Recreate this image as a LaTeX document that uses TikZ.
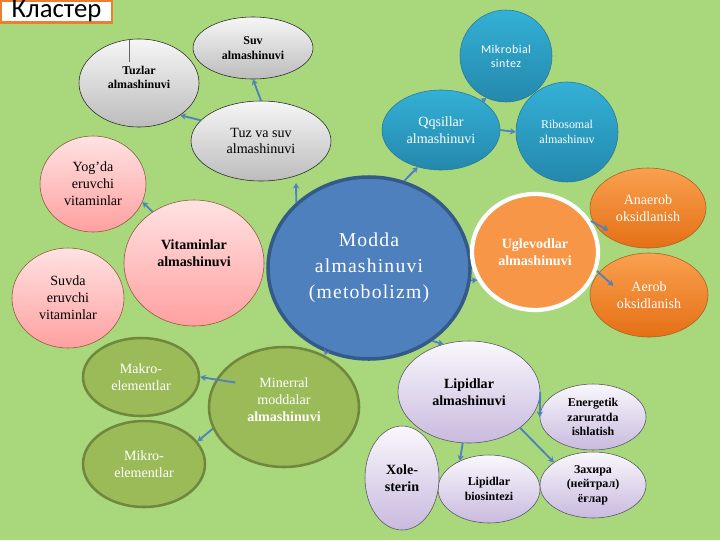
\documentclass[tikz,border=0pt]{standalone}
\usepackage{fontspec}
\setmainfont{Liberation Serif}
\newfontfamily\titlefont{Carlito}
\usetikzlibrary{shapes.geometric,arrows.meta}
\definecolor{bggreen}{RGB}{169,215,124}
\definecolor{greytop}{RGB}{246,246,246}
\definecolor{greybot}{RGB}{188,188,188}
\definecolor{pinktop}{RGB}{255,226,226}
\definecolor{pinkbot}{RGB}{255,160,160}
\definecolor{pinkline}{RGB}{140,85,60}
\definecolor{tealtop}{RGB}{52,176,214}
\definecolor{tealbot}{RGB}{36,136,172}
\definecolor{tealline}{RGB}{40,120,150}
\definecolor{moddafill}{RGB}{77,128,189}
\definecolor{moddaline}{RGB}{52,90,136}
\definecolor{uglevfill}{RGB}{247,150,70}
\definecolor{orangetop}{RGB}{250,160,78}
\definecolor{orangebot}{RGB}{228,112,22}
\definecolor{orangeline}{RGB}{170,95,35}
\definecolor{olivefill}{RGB}{155,187,89}
\definecolor{oliveline}{RGB}{112,136,62}
\definecolor{lilactop}{RGB}{250,247,253}
\definecolor{lilacbot}{RGB}{200,186,222}
\definecolor{lilacline}{RGB}{85,85,95}
\definecolor{linkblue}{RGB}{79,129,189}
\definecolor{titleorange}{RGB}{237,125,49}
\newcommand\bubble[6]{\node[#1,minimum width=#4*0.025cm,minimum height=#5*0.025cm] (#2) at (#3) {#6};}
\newcommand\connect[3][]{\draw[link,#1] (#2) -- (#3);}

\begin{document}
\begin{tikzpicture}[x=0.025cm,y=-0.025cm]
\tikzstyle{blob}=[ellipse,inner sep=0pt,align=center]
\tikzstyle{greybub}=[blob,draw=black!85,top color=greytop,bottom color=greybot]
\tikzstyle{pinkbub}=[blob,draw=pinkline,top color=pinktop,bottom color=pinkbot]
\tikzstyle{tealbub}=[blob,draw=tealline,top color=tealtop,bottom color=tealbot,text=white]
\tikzstyle{orangebub}=[blob,draw=orangeline,top color=orangetop,bottom color=orangebot,text=white]
\tikzstyle{olivebub}=[blob,draw=oliveline,line width=1.8pt,fill=olivefill,text=white]
\tikzstyle{lilacbub}=[blob,draw=lilacline,top color=lilactop,bottom color=lilacbot]
\tikzstyle{moddabub}=[blob,draw=moddaline,line width=2.5pt,fill=moddafill,text=white,
  font=\fontsize{14}{18.5}\selectfont\addfontfeature{LetterSpace=6}]
\tikzstyle{uglevbub}=[blob,draw=white,line width=3pt,fill=uglevfill,text=white]
\tikzstyle{titlebox}=[draw=titleorange,line width=2pt,fill=white,inner sep=0pt,
  minimum width=111*0.025cm,minimum height=21*0.025cm,font=\titlefont\fontsize{19}{19}\selectfont]
\tikzstyle{link}=[linkblue,line width=1.3pt,-{Stealth[length=4pt,width=4.5pt]}]
\tikzstyle{f10}=[font=\fontsize{10}{12}\selectfont]
\tikzstyle{f10b}=[font=\bfseries\fontsize{10}{12}\selectfont]
\tikzstyle{f8}=[font=\fontsize{8.5}{10.5}\selectfont]
\tikzstyle{f8b}=[font=\bfseries\fontsize{8.5}{10.4}\selectfont]
\tikzstyle{sans8}=[font=\titlefont\fontsize{8.5}{10}\selectfont\addfontfeature{LetterSpace=4}]
\tikzstyle{lift}=[text depth=#1]

\useasboundingbox (0,0) rectangle (720,540);
\fill[bggreen] (0,0) rectangle (720,540);

\node[titlebox] (title) at (56.5,11.5) {Кластер};

%% bubbles
\bubble{greybub,f8b}{suv}{253,48}{120}{62}{Suv\\almashinuvi}
\bubble{greybub,f8b,lift=8pt}{tuzlar}{139,83}{120}{88}{Tuzlar\\almashinuvi}
\bubble{greybub,f10}{tuzsuv}{261,141}{140}{80}{Tuz va suv\\almashinuvi}
\bubble{pinkbub,f10}{yogda}{93,184}{106}{96}{Yog’da\\eruvchi\\vitaminlar}
\bubble{pinkbub,f10b,lift=14pt}{vitamin}{194,263}{140}{126}{Vitaminlar\\almashinuvi}
\bubble{pinkbub,f10}{suvda}{68,298}{112}{100}{Suvda\\eruvchi\\vitaminlar}
\bubble{moddabub}{modda}{369,268}{202}{182}{Modda\\almashinuvi\\(metobolizm)}
\bubble{tealbub,f10}{oqsil}{441,130}{118}{80}{Qqsillar\\almashinuvi}
\bubble{tealbub,sans8}{mikrob}{506,56}{92}{92}{Mikrobial\\sintez}
\bubble{tealbub,f8}{ribos}{567,132}{102}{100}{Ribosomal\\almashinuv}
\bubble{uglevbub,f10b}{uglev}{535,252}{126}{116}{Uglevodlar\\almashinuvi}
\bubble{orangebub,f10}{anaerob}{648,208}{116}{80}{Anaerob\\oksidlanish}
\bubble{orangebub,f10}{aerob}{649,295}{118}{84}{Aerob\\oksidlanish}
\bubble{olivebub,f10}{makro}{141,377}{116}{78}{Makro-\\elementlar}
\bubble{olivebub,f10}{mikro}{144,464}{122}{86}{Mikro-\\elementlar}
\bubble{olivebub,f10,lift=11pt}{mineral}{284,407}{150}{120}{Minerral\\moddalar\\\textbf{almashinuvi}}
\bubble{lilacbub,f10b}{lipid}{469,392}{142}{102}{Lipidlar\\almashinuvi}
\bubble{lilacbub,f8b}{energ}{593,417}{106}{66}{Energetik\\zaruratda\\ishlatish}
\bubble{lilacbub,f8b}{zaxira}{593,485}{106}{66}{Захира\\(нейтрал)\\ёғлар}
\bubble{lilacbub,f8b}{biosin}{489,489}{102}{68}{Lipidlar\\biosintezi}
\bubble{lilacbub,f10b}{xole}{402,478}{74}{104}{Xole-\\sterin}

\draw[black!60,thin] (tuzlar.102) -- ++(0,23);

%% connections
\connect{tuzsuv.90}{suv.-90}
\connect{tuzsuv.161}{tuzlar.-38}
\connect[shorten >=5pt]{modda.138}{tuzsuv.-45}
\connect{modda.68}{oqsil.-122}
\connect{oqsil.35}{mikrob.-115}
\connect{oqsil.east}{ribos.west}
\connect{modda.-7}{uglev.-154}
\connect[shorten >=-12pt]{uglev.29}{anaerob.-165}
\connect[shorten >=-14pt]{uglev.-17}{aerob.156}
\connect{vitamin.129}{yogda.-20}
\connect{modda.-117}{mineral.52}
\connect[shorten <=-14pt]{mineral.158}{makro.east}
\connect{mineral.-163}{mikro.23}
\connect{modda.-49}{lipid.118}
\connect{lipid.east}{energ.west}
\connect{lipid.-35}{zaxira.150}
\connect{lipid.-97}{biosin.136}
\end{tikzpicture}
\end{document}
